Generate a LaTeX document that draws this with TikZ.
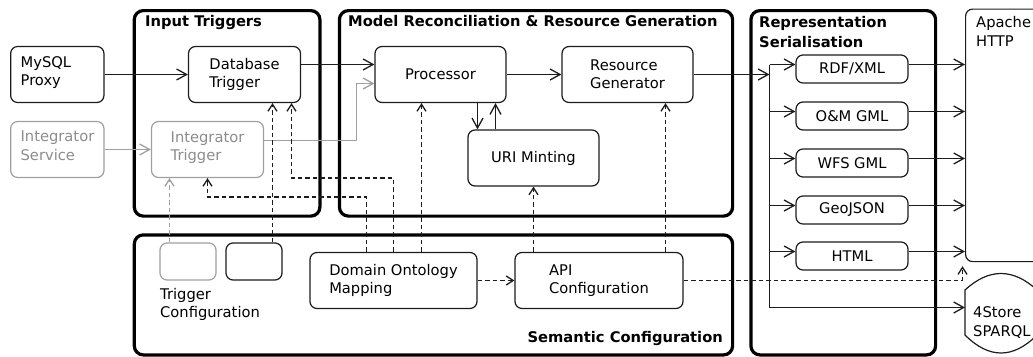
\documentclass[tikz,border=0pt]{standalone}
\usepackage{fontspec}
\setmainfont{DejaVu Sans}
\usetikzlibrary{arrows.meta,calc}
\definecolor{lgray}{HTML}{A0A0A0}
\definecolor{tgray}{HTML}{8C8C8C}
\definecolor{ink}{HTML}{1C1C1C}
\begin{document}
\begin{tikzpicture}[x=1pt,y=-1pt,
  font=\fontsize{14.7}{18.3}\selectfont,
  box/.style={draw=ink, line width=1.2pt, rounded corners=7pt, inner sep=0pt, align=center},
  gbox/.style={box, draw=lgray, text=tgray},
  frame/.style={draw=black, line width=3.2pt, rounded corners=9pt, inner sep=0pt},
  ttl/.style={font=\fontsize{14.7}{20}\selectfont\bfseries, inner sep=0pt, align=left},
  arr/.style={line width=1.3pt, draw=ink, -{Straight Barb[length=10pt,width=11pt]}},
  garr/.style={arr, draw=lgray},
  plain/.style={line width=1.3pt, draw=ink},
  darr/.style={line width=1.3pt, draw=ink, dash pattern=on 4.5pt off 3pt, -{Straight Barb[length=7pt,width=9pt]}},
  gdarr/.style={darr, draw=lgray},
]
\useasboundingbox (0,0) rectangle (1033,356);
\clip (0,0) rectangle (1033,356);

% frames
\node[frame, anchor=north west, minimum width=185.6, minimum height=205.5] (fin) at (132.7,9) {};
\node[frame, anchor=north west, minimum width=393.2, minimum height=205.5] (fmr) at (337.8,9) {};
\node[frame, anchor=north west, minimum width=184.7, minimum height=344.3] (frs) at (749.3,9) {};
\node[frame, anchor=north west, minimum width=598.3, minimum height=120] (fsc) at (132.7,233.3) {};

\node[ttl, anchor=base west] (tin) at (145,27) {Input Triggers};
\node[ttl, anchor=base west] (tmr) at (348,27) {Model Reconciliation \& Resource Generation};
\node[ttl, anchor=north west] (trs) at (759,15.8) {Representation\\Serialisation};
\node[ttl, anchor=base east] (tsc) at (723,342) {Semantic Configuration};

% nodes
\node[box, align=left, text width=73.3pt, inner xsep=10pt, minimum height=56] (mysql) at (57.3,74.5) {MySQL\\Proxy\rule[-7pt]{0pt}{0pt}};
\node[gbox, align=left, text width=73.3pt, inner xsep=10pt, minimum height=56] (intsvc) at (57.3,149.5) {Integrator\\Service\rule[-8pt]{0pt}{0pt}};
\node[box, align=left, minimum width=112, minimum height=56] (dbtrig) at (244.5,74.5) {Database\\Trigger};
\node[gbox, align=left, minimum width=112, minimum height=56] (inttrig) at (207.5,149.5) {Integrator\\Trigger\rule[-7pt]{0pt}{0pt}};
\node[box, minimum width=131, minimum height=56] (proc) at (440.5,74.5) {Processor};
\node[box, align=left, minimum width=131, minimum height=56] (resgen) at (627.5,74.5) {Resource\\Generator};
\node[box, minimum width=131, minimum height=56] (uri) at (533.5,158) {URI Minting};

\node[box, minimum width=112, minimum height=28] (rdf) at (852,69) {RDF/XML};
\node[box, minimum width=112, minimum height=28] (om) at (852,116) {O\&M GML};
\node[box, minimum width=112, minimum height=28] (wfs) at (852,163) {WFS GML};
\node[box, minimum width=112, minimum height=28] (geo) at (852,210) {GeoJSON};
\node[box, minimum width=112, minimum height=28] (html) at (852,256) {HTML};

\node[gbox, minimum width=56, minimum height=37] (tc1) at (188,261.5) {};
\node[box, minimum width=56, minimum height=37] (tc2) at (254,261.5) {};
\node[inner sep=0pt, align=left, anchor=north west] (tctext) at (160,288.3) {Trigger\\Configuration};
\node[box, align=left, minimum width=167, minimum height=56] (dom) at (393.5,280.5) {Domain Ontology\\Mapping};
\node[box, align=left, minimum width=168, minimum height=56] (api) at (599,280.5) {API\\Configuration};

\node[box, anchor=north west, minimum width=100, minimum height=252.5] (apache) at (965,8.5) {};
\node[inner sep=0pt, align=left, anchor=north west] (apachetxt) at (976,16.5) {Apache\\HTTP};

\draw[line width=1.2pt, draw=ink] (965,290) -- (965,335) .. controls (989,359) and (1013,359) .. (1037,335)
   -- (1037,290) .. controls (1013,268) and (989,268) .. (965,290) -- cycle;
\coordinate (store) at (965,307.5);
\node[inner sep=0pt, align=left, anchor=west] (storetxt) at (973,322.5) {4Store\\SPARQL};

% solid connectors
\draw[arr] (mysql) -- (dbtrig);
\draw[garr] (intsvc) -- (inttrig);
\draw[arr] ($(dbtrig.east)+(0,-10)$) -- ($(proc.west)+(0,-10)$);
\draw[garr] ($(inttrig.east)+(0,-9)$) -| ($(proc.west)+(-18,9)$) -- ($(proc.west)+(0,9)$);
\draw[arr] (proc) -- (resgen);
\draw[arr] ($(proc.south)+(37,0)$) -- ($(uri.north)+(-56,0)$);
\draw[arr] ($(uri.north)+(-38,0)$) -- ($(proc.south)+(55,0)$);

\coordinate (bustop) at (769.5,64.5);
\coordinate (busbot) at (769.5,307.5);
\draw[arr] (resgen.east) -- (resgen.east -| bustop);
\draw[plain] (bustop) -- (busbot);
\draw[arr] (busbot) -- (store);
\foreach \f in {rdf,om,wfs,geo,html}{
  \draw[arr] ($(\f.west -| bustop)+(0,-4.5)$) -- ($(\f.west)+(0,-4.5)$);
  \draw[arr] ($(\f.east)+(0,-4.5)$) -- ($(\f.east -| apache.west)+(0,-4.5)$);
}

% dashed connectors
\draw[gdarr] ($(tc1.north)+(-18.5,0)$) -- ($(tc1.north |- inttrig.south)+(-18.5,0)$);
\draw[darr] ($(tc2.north)+(18.5,0)$) -- ($(tc2.north |- dbtrig.south)+(18.5,0)$);
\draw[darr] ($(dom.north)+(-27,0)$) |- ($(inttrig.south)+(0,19)$) -- (inttrig.south);
\draw[darr] (dom.north) |- ($(dbtrig.south)+(47,75)$) -- ($(dbtrig.south)+(47,0)$);
\draw[darr] ($(dom.north)+(28,0)$) -- ($(proc.south)+(-19,0)$);
\draw[darr] (uri.south |- api.north) -- (uri.south);
\draw[darr] ($(api.north)+(66.5,0)$) -- ($(resgen.south)+(38,0)$);
\draw[darr] (dom) -- (api);
\draw[darr] (api.east) -| ($(apache.south west)+(-2.5,4)$);
\end{tikzpicture}
\end{document}
